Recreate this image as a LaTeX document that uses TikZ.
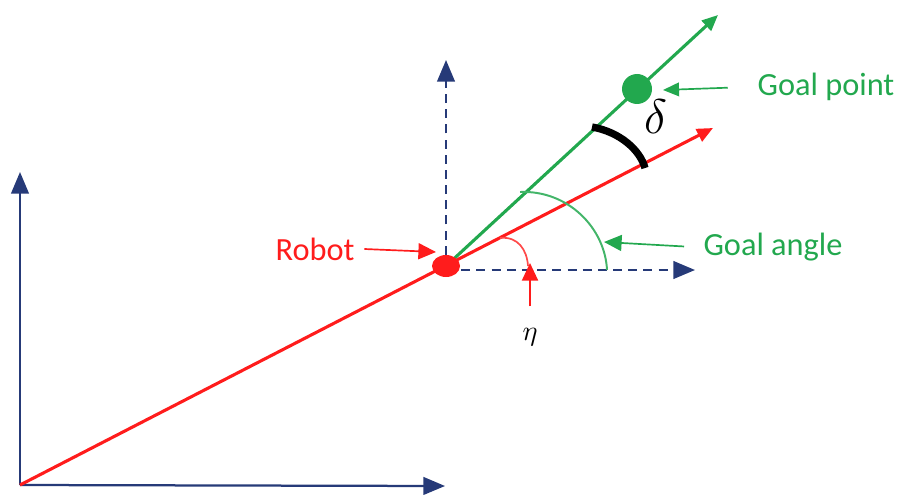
\documentclass[tikz,border=0pt]{standalone}
\usepackage{fontspec}
\setsansfont{Carlito}
\usetikzlibrary{arrows.meta,positioning,calc}
\definecolor{AX-NAVY}{RGB}{38,58,120}
\definecolor{RB-RED}{RGB}{255,28,28}
\definecolor{GL-GREEN}{RGB}{34,168,78}

\begin{document}
\begin{tikzpicture}[x=0.0125cm,y=-0.0125cm,
    lbl/.style={font=\sffamily\fontsize{11.5}{13}\selectfont},
    bigtip/.style={-{Triangle[length=0.27cm,width=0.22cm]}},
    smalltip/.style={-{Triangle[length=0.2cm,width=0.17cm]}},
    pointtip/.style={-{Triangle[length=0.22cm,width=0.2cm]}},
    localaxis/.style={AX-NAVY, line width=0.8pt, dash pattern=on 3.2pt off 2.2pt, bigtip}]
  \useasboundingbox (0,0) rectangle (899,494);

  % World frame
  \coordinate (O) at (20,485);
  \coordinate (Yw) at (20,172);
  \coordinate (Xw) at (445,486);
  \draw[AX-NAVY, line width=0.8pt, bigtip] (O) -- (Yw);
  \draw[AX-NAVY, line width=0.8pt, bigtip] (O) -- (Xw);

  % Robot frame (dashed)
  \coordinate (L) at (446,270);
  \coordinate (Yl) at (446,60);
  \coordinate (Xl) at (695,270);
  \draw[localaxis] (L) -- (Yl);
  \draw[localaxis] (L) -- (Xl);

  % Heading (red) and goal direction (green)
  \coordinate (R) at (446,266);
  \coordinate (headtip) at (713,128);
  \coordinate (goaltip) at (718,15);
  \draw[RB-RED, line width=1.1pt, smalltip] (O) -- (headtip);
  \draw[GL-GREEN, line width=1.1pt, smalltip] (R) -- (goaltip);

  % Robot and goal point
  \fill[RB-RED] (R) ellipse (14 and 11);
  \coordinate (G) at (637,89);
  \fill[GL-GREEN] (G) circle (15);

  % Angles
  \draw[RB-RED!80, line width=0.6pt] (500,238) .. controls (518,236) and (527,250) .. (528,266);
  \draw[GL-GREEN!85, line width=0.7pt] (520,192) .. controls (568,190) and (605,228) .. (607,270);
  \draw[black, line width=2.6pt] (592,127) .. controls (620,132) and (640,150) .. (645,168);
  \node (delta) at (656,117) {\LARGE$\delta$};

  % Labels and pointers
  \node[lbl, text=RB-RED] (robotlbl) at (315,249) {Robot};
  \coordinate (robotptr) at (436,252);
  \draw[RB-RED, line width=0.6pt, pointtip] (robotlbl.east) -- (robotptr);

  \node[lbl, text=GL-GREEN] (goallbl) at (826,87) {Goal point};
  \coordinate (goalptr) at (663,90);
  \draw[GL-GREEN, line width=0.6pt, smalltip, shorten <=0.25cm] (goallbl.west) -- (goalptr);

  \node[lbl, text=GL-GREEN] (anglelbl) at (773,247) {Goal angle};
  \coordinate (angleptr) at (604,242);
  \draw[GL-GREEN, line width=0.6pt, pointtip, shorten <=0.12cm] (anglelbl.west) -- (angleptr);

  \node (eta) at (530,337) {$\eta$};
  \coordinate (etaptr) at (530,263);
  \draw[RB-RED, line width=0.7pt, pointtip, shorten <=0.15cm] (eta.north) -- (etaptr);
\end{tikzpicture}
\end{document}
